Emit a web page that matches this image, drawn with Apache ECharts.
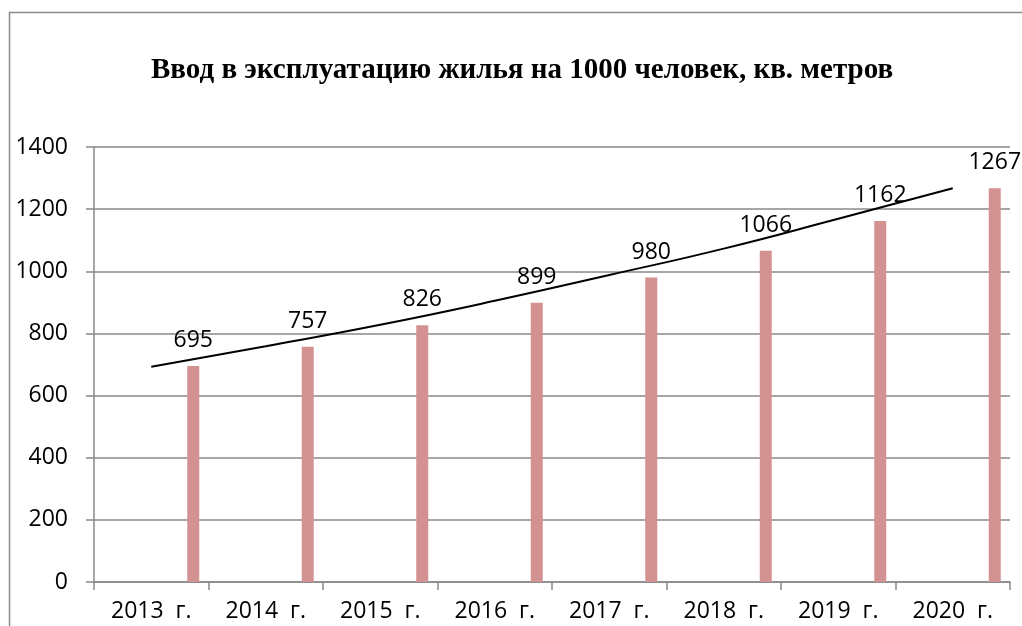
<!DOCTYPE html>
<html>
<head>
<meta charset="utf-8">
<script src="https://cdn.jsdelivr.net/npm/echarts@6/dist/echarts.min.js"></script>
<style>
  html, body { margin: 0; padding: 0; background: #fff; }
  #chart { width: 1022px; height: 626px; }
</style>
</head>
<body>
<div id="chart"></div>
<script>
var years = ['2013  г.', '2014  г.', '2015  г.', '2016  г.', '2017  г.', '2018  г.', '2019  г.', '2020  г.'];
var housing = [695, 757, 826, 899, 980, 1066, 1162, 1267];
// trend line
var trend = [693, 759, 828, 905, 988, 1073, 1169, 1267];
var yTicks = [0, 200, 400, 600, 800, 1000, 1200, 1400];

var chart = echarts.init(document.getElementById('chart'));

var axisGrey = '#898989';
var labelFont = 'Open Sans';

// empty bar series only reserve slots so the real bar sits right in its category
var series = [];
for (var i = 0; i < 7; i++) {
  series.push({ type: 'bar', data: [], barWidth: 12, barGap: '0%', silent: true });
}
series.push({
  name: 'Ввод жилья',
  type: 'bar',
  data: housing,
  barWidth: 12,
  barGap: '0%',
  itemStyle: { color: '#d39292' },
  label: {
    show: true,
    position: 'top',
    distance: 14,
    color: '#000',
    fontFamily: labelFont,
    fontSize: 23
  }
});
series.push({
  name: 'Тренд',
  type: 'line',
  data: trend,
  smooth: true,
  symbol: 'none',
  lineStyle: { color: '#000', width: 2 },
  z: 5
});

var option = {
  animation: false,
  title: {
    text: 'Ввод в эксплуатацию жилья на 1000 человек, кв. метров',
    left: 146,
    top: 51,
    textStyle: {
      fontFamily: 'Liberation Serif',
      fontWeight: 'bold',
      fontSize: 29,
      color: '#000'
    }
  },
  graphic: [{
    type: 'rect',
    shape: { x: 9.5, y: 12.5, width: 1100, height: 700 },
    style: { fill: 'none', stroke: '#8c8c8c', lineWidth: 1.5 },
    silent: true
  }],
  grid: { left: 94, right: 12, top: 147, bottom: 44 },
  xAxis: {
    type: 'category',
    data: years,
    boundaryGap: true,
    axisLine: { lineStyle: { color: axisGrey, width: 1.5 } },
    axisTick: { show: true, length: 8, lineStyle: { color: axisGrey, width: 1.5 } },
    axisLabel: {
      color: '#000',
      fontFamily: labelFont,
      fontSize: 23,
      margin: 18,
      interval: 0
    }
  },
  yAxis: {
    type: 'value',
    min: yTicks[0],
    max: yTicks[yTicks.length - 1],
    interval: 200,
    axisLine: { show: true, lineStyle: { color: axisGrey, width: 1.5 } },
    axisTick: { show: true, length: 8, lineStyle: { color: axisGrey, width: 1.5 } },
    splitLine: { lineStyle: { color: axisGrey, width: 1.5 } },
    axisLabel: {
      color: '#000',
      fontFamily: labelFont,
      fontSize: 23,
      margin: 26,
      formatter: function (v) { return String(v); }
    }
  },
  series: series
};

chart.setOption(option);
</script>
</body>
</html>
